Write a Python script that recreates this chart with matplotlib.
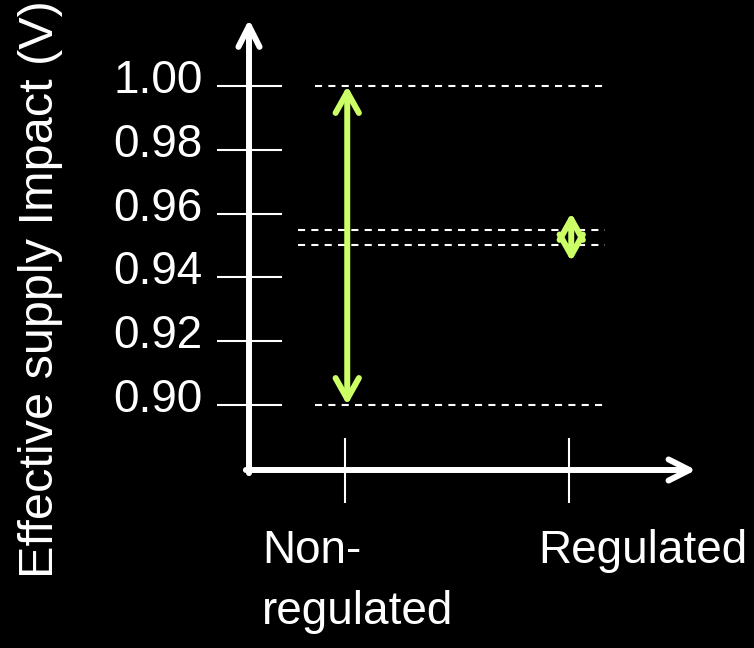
import matplotlib
matplotlib.use("Agg")
import matplotlib.pyplot as plt
from matplotlib.transforms import ScaledTranslation

# values
categories = ['Non-\nregulated', 'Regulated']
y_ticks = [0.90, 0.92, 0.94, 0.96, 0.98, 1.00]
y_tick_labels = ['0.90', '0.92', '0.94', '0.96', '0.98', '1.00']
nonreg_range = (0.90, 1.00)
reg_range = (0.950, 0.955)
# the small arrow on the slide overshoots its dashed lines a bit
reg_arrow = (0.9450, 0.9602)
ylabel = 'Effective supply Impact (V)'

green = '#ccff66'
plt.rcParams['font.family'] = ['Liberation Sans', 'DejaVu Sans']

fig = plt.figure(figsize=(7.54, 6.48), dpi=100, facecolor='black')
ax = fig.add_axes([249/754, 1 - 470/648, 447/754, 447/648])
ax.set_facecolor('black')
ax.set_xlim(-0.4286, 1.567)
ax.set_ylim(0.87962, 1.01975)
for s in ax.spines.values():
    s.set_visible(False)

# axis lines with open arrow heads
axis_arrow = dict(arrowstyle='->,head_length=0.75,head_width=0.38', lw=4.3,
                  color='white', shrinkA=0, shrinkB=0, mutation_scale=20)
ax.annotate('', xy=(0, 1.008), xytext=(0, -0.007), xycoords='axes fraction',
            arrowprops=axis_arrow, annotation_clip=False)
ax.annotate('', xy=(1, 0), xytext=(-0.007, 0), xycoords='axes fraction',
            arrowprops=axis_arrow, annotation_clip=False)

ax.set_yticks(y_ticks)
ax.set_yticklabels(y_tick_labels)
ax.set_xticks(range(len(categories)))
ax.set_xticklabels(['', ''])
ax.tick_params(axis='both', direction='inout', length=46.8, width=1.5,
               color='white', labelcolor='white', labelsize=33)
ax.tick_params(axis='y', pad=10)
# labels sit a little above their ticks on the slide
lift = ScaledTranslation(0, 5/100, fig.dpi_scale_trans)
for lab in ax.get_yticklabels():
    lab.set_verticalalignment('center')
    lab.set_transform(lab.get_transform() + lift)

# category labels, left aligned under the ticks
label_dx = [-83, -31]
for i, (cat, dx) in enumerate(zip(categories, label_dx)):
    ax.annotate(cat, xy=(i, 0), xycoords=('data', 'axes fraction'),
                xytext=(dx, -59), textcoords='offset pixels',
                ha='left', va='top', color='white', fontsize=33,
                linespacing=1.5, annotation_clip=False)

# dashed reference lines
ax.hlines(nonreg_range, -0.134, 1.161, colors='white', lw=1.5,
          linestyles=(0, (3.4, 3.0)))
ax.hlines(reg_range, -0.21, 1.161, colors='white', lw=1.5,
          linestyles=(0, (3.4, 3.0)))

# double headed range arrows
range_arrow = dict(arrowstyle='<->,head_length=0.75,head_width=0.42', lw=4.3,
                   color=green, shrinkA=0, shrinkB=0, mutation_scale=20)
ax.annotate('', xy=(0.01, nonreg_range[1]), xytext=(0.01, nonreg_range[0]),
            arrowprops=range_arrow)
ax.annotate('', xy=(1.01, reg_arrow[1]), xytext=(1.01, reg_arrow[0]),
            arrowprops=range_arrow)

fig.text(53/754, 1 - 578/648, ylabel, rotation=90, rotation_mode='anchor',
         ha='left', va='baseline', color='white', fontsize=35)

fig.savefig('out.png', dpi=100, facecolor='black')
